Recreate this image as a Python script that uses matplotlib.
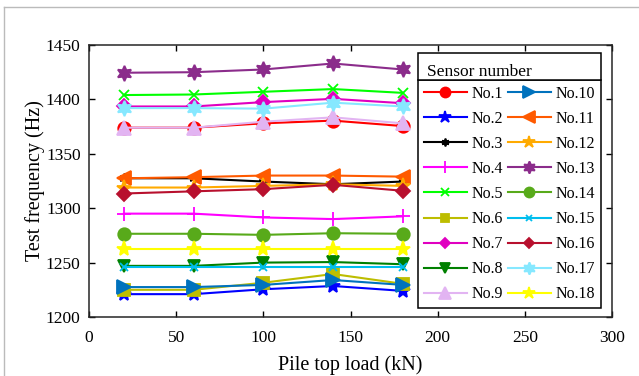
import matplotlib
matplotlib.use('Agg')
import matplotlib.pyplot as plt
from matplotlib.patches import Rectangle
from matplotlib.lines import Line2D

plt.rcParams['font.family'] = ['Liberation Serif', 'DejaVu Serif']

# pile top load steps (kN)
load = [20, 60, 100, 140, 180]

# measured frequency of each sensor (Hz)
s1 = [1374, 1374, 1378, 1380.5, 1375.5]
s2 = [1221, 1221, 1225.5, 1228.5, 1224]
s3 = [1327.5, 1327.5, 1324.5, 1322, 1324.5]
s4 = [1295, 1295, 1291.5, 1290, 1292.5]
s5 = [1404, 1404.5, 1407, 1409.5, 1406]
s6 = [1225, 1225, 1231.5, 1239.5, 1230.5]
s7 = [1393.5, 1393.5, 1397.5, 1400.5, 1396.5]
s8 = [1247, 1247, 1250, 1250.5, 1248.5]
s9 = [1374, 1374, 1379.5, 1383.5, 1378]
s10 = [1227.5, 1227.5, 1229.5, 1234, 1229.5]
s11 = [1327.5, 1328.5, 1330, 1330, 1329]
s12 = [1319, 1319, 1320.5, 1322, 1320.5]
s13 = [1424.5, 1425, 1427.5, 1433, 1427.5]
s14 = [1276.5, 1276.5, 1275.5, 1277, 1276.5]
s15 = [1246, 1246, 1246, 1246, 1246]
s16 = [1313.5, 1315.5, 1317.5, 1321.5, 1316]
s17 = [1392, 1392, 1391.5, 1397, 1393.5]
s18 = [1262.5, 1262.5, 1262.5, 1262.5, 1262.5]

series = [s1, s2, s3, s4, s5, s6, s7, s8, s9,
          s10, s11, s12, s13, s14, s15, s16, s17, s18]
labels = ['No.%d' % (i + 1) for i in range(18)]

colors = ['#FF0000', '#0000FF', '#000000', '#FF00FF', '#00FF00', '#BDBD00',
          '#E000C0', '#008000', '#E2B4F2', '#0072BD', '#FF5A00', '#FFAA00',
          '#8B2C8B', '#58AA1A', '#00BEEE', '#B8102E', '#86E8FF', '#FFFF00']
markers = ['o', '*', (6, 2, 0), '+', 'x', 's', 'D', 'v', '^',
           '>', '<', '*', (6, 1, 0), 'o', 'x', 'D', (6, 1, 0), '*']
msizes = [9, 11, 7, 10, 7, 8, 7, 9, 10,
          10, 10, 11, 11, 9, 6, 7, 11, 11]

W, H = 639, 376
fig = plt.figure(figsize=(W / 100, H / 100), dpi=100)
ax = fig.add_axes([89 / W, 1 - 317 / H, (612 - 89) / W, (317 - 45) / H])

for y, lab, c, m, ms in zip(series, labels, colors, markers, msizes):
    ax.plot(load, y, color=c, marker=m, markersize=ms, lw=1.5,
            mew=1.3, label=lab)

ax.set_xlim(0, 300)
ax.set_ylim(1200, 1450)
ax.set_xticks(range(0, 301, 50))
ax.set_yticks(range(1200, 1451, 50))
ax.tick_params(axis='both', direction='in', length=4, width=1, top=True,
               right=True, labelsize=12.5)
ax.tick_params(axis='x', pad=9)
ax.tick_params(axis='y', pad=6)
for sp in ax.spines.values():
    sp.set_linewidth(1.1)
    sp.set_color('#262626')
ax.set_xlabel('Pile top load (kN)', fontsize=14.5, labelpad=7)
ax.set_ylabel('Test frequency (Hz)', fontsize=14.5, labelpad=1)

leg = fig.legend(ncol=2, loc='upper left', bbox_to_anchor=(418 / W, 1 - 80 / H),
                 fontsize=11.5, handlelength=2.7, handletextpad=0.3,
                 columnspacing=0.3, labelspacing=0.57, borderpad=0.35,
                 borderaxespad=0, fancybox=False, framealpha=1,
                 markerscale=0.8)
leg.get_frame().set_edgecolor('black')
leg.get_frame().set_linewidth(1.1)

# separate box holding the legend title
fig.add_artist(Rectangle((418 / W, 1 - 80 / H), (601 - 418) / W, 27 / H,
                         transform=fig.transFigure, facecolor='white',
                         edgecolor='black', lw=1.1, zorder=6))
fig.text(427 / W, 1 - 76 / H, 'Sensor number', fontsize=12.5,
         va='baseline', ha='left', zorder=7)

# thin frame lines along the top and left edge
fig.add_artist(Line2D([4 / W, 4 / W], [0, 1 - 7 / H], transform=fig.transFigure,
                      color='#BBBBBB', lw=1))
fig.add_artist(Line2D([4 / W, 1], [1 - 7 / H, 1 - 7 / H], transform=fig.transFigure,
                      color='#BBBBBB', lw=1))

fig.savefig('out.png', dpi=100)
